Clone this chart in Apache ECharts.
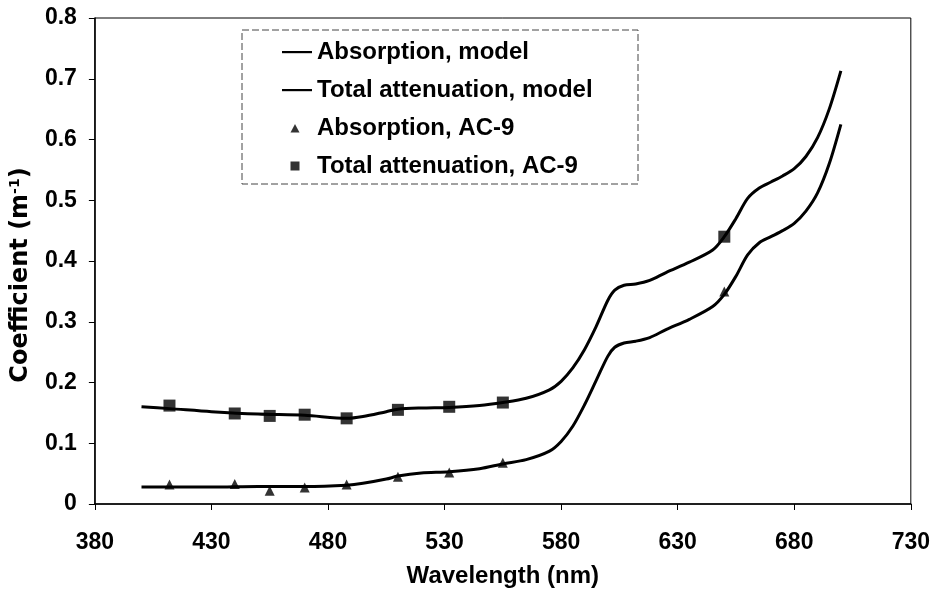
<!DOCTYPE html>
<html>
<head>
<meta charset="utf-8">
<script src="https://cdn.jsdelivr.net/npm/echarts@6/dist/echarts.min.js"></script>
<style>html,body{margin:0;padding:0;background:#fff}#c{width:933px;height:594px}</style>
</head>
<body>
<div id="c"></div>
<script>
// Model wavelengths (nm)
const modelWavelengths = [400,412,430,450,470,488,495,505,510,520,532,545,555,565,575,580,585,590,595,600,603,607,612,618,625,635,645,650,655,660,665,670,675,680,685,690,695,700];
const absorptionModel = [0.028,0.028,0.028,0.029,0.029,0.031,0.034,0.041,0.046,0.051,0.053,0.058,0.066,0.073,0.087,0.103,0.128,0.163,0.203,0.243,0.258,0.265,0.268,0.274,0.287,0.304,0.325,0.345,0.375,0.410,0.430,0.440,0.450,0.462,0.482,0.512,0.560,0.625];
const attenuationModel = [0.160,0.157,0.152,0.148,0.146,0.141,0.144,0.152,0.156,0.158,0.159,0.162,0.167,0.174,0.188,0.202,0.224,0.254,0.292,0.335,0.352,0.360,0.362,0.368,0.381,0.398,0.418,0.440,0.470,0.503,0.520,0.530,0.540,0.552,0.572,0.603,0.650,0.713];
// AC-9 measurements
const ac9Wavelengths = [412,440,455,470,488,510,532,555,650];
const absorptionAC9 = [0.032,0.033,0.022,0.027,0.032,0.045,0.052,0.068,0.350];
const attenuationAC9 = [0.162,0.149,0.145,0.147,0.141,0.155,0.160,0.167,0.440];
const xTicks = {min:380, max:730, interval:50};
const yTicks = {min:0, max:0.8, interval:0.1};
const seriesNames = ['Absorption, model','Total attenuation, model','Absorption, AC-9','Total attenuation, AC-9'];

const zip = (xs, ys) => xs.map((x,i)=>[x, ys[i]]);
const FONT = '"Liberation Sans", Arial, sans-serif';
const WIDE = '"DejaVu Sans", sans-serif';
const ICON_LINE = 'path://M0,0 M30,14 M0,6 L30,6 L30,8.2 L0,8.2 Z';
const ICON_TRI = 'path://M0,0 M30,14 M8.5,11.5 L13,3 L17.5,11.5 Z';
const ICON_SQ = 'path://M0,0 M30,14 M8.5,2.5 L17.5,2.5 L17.5,11.5 L8.5,11.5 Z';

const chart = echarts.init(document.getElementById('c'), null, {renderer:'canvas'});
chart.setOption({
  animation:false,
  backgroundColor:'#fff',
  grid:{left:91, right:19, top:18, bottom:90, show:true, borderColor:'#000', borderWidth:1, backgroundColor:'transparent'},
  graphic:[{type:'rect', shape:{x:242, y:30, width:396, height:154}, style:{fill:'none', stroke:'#444', lineWidth:1, lineDash:[7,3]}, z:100}],
  legend:{
    orient:'vertical', left:282, top:39, padding:0, itemGap:12, itemWidth:30, itemHeight:14,
    symbolKeepAspect:true,
    data:[
      {name:seriesNames[0], icon:ICON_LINE, itemStyle:{color:'#000'}},
      {name:seriesNames[1], icon:ICON_LINE, itemStyle:{color:'#000'}},
      {name:seriesNames[2], icon:ICON_TRI, itemStyle:{color:'#000'}},
      {name:seriesNames[3], icon:ICON_SQ, itemStyle:{color:'#000'}}
    ],
    textStyle:{fontFamily:FONT, fontWeight:'bold', fontSize:24, color:'#000', lineHeight:26}
  },
  xAxis:{
    type:'value', min:xTicks.min, max:xTicks.max, interval:xTicks.interval,
    name:'Wavelength (nm)', nameLocation:'middle', nameGap:60,
    nameTextStyle:{fontFamily:FONT, fontWeight:'bold', fontSize:24, color:'#000'},
    axisLine:{show:true, lineStyle:{color:'#000', width:1.5}},
    axisTick:{show:true, inside:false, length:6, lineStyle:{color:'#000'}},
    axisLabel:{fontFamily:FONT, fontWeight:'bold', fontSize:23, color:'#000', margin:27},
    splitLine:{show:false}
  },
  yAxis:{
    type:'value', min:yTicks.min, max:yTicks.max, interval:yTicks.interval,
    name:'Coefficient (m{sup|-1})', nameLocation:'middle', nameGap:54,
    nameTextStyle:{fontFamily:WIDE, fontWeight:'bold', fontSize:24, color:'#000', lineHeight:26, padding:[0,28,0,0],
      rich:{sup:{fontFamily:WIDE, fontWeight:'bold', fontSize:14, color:'#000', verticalAlign:'top', lineHeight:14}}},
    axisLine:{show:true, lineStyle:{color:'#000', width:1.5}},
    axisTick:{show:true, inside:false, length:6, lineStyle:{color:'#000'}},
    axisLabel:{fontFamily:FONT, fontWeight:'bold', fontSize:23, color:'#000', margin:18,
      formatter:v=> v===0 ? '0' : v.toFixed(1)},
    splitLine:{show:false}
  },
  series:[
    {name:seriesNames[0], type:'line', data:zip(modelWavelengths, absorptionModel), symbol:'none', smooth:0.3,
     lineStyle:{color:'#000', width:3}, itemStyle:{color:'#000'}, z:2},
    {name:seriesNames[1], type:'line', data:zip(modelWavelengths, attenuationModel), symbol:'none', smooth:0.3,
     lineStyle:{color:'#000', width:3}, itemStyle:{color:'#000'}, z:2},
    {name:seriesNames[2], type:'scatter', data:zip(ac9Wavelengths, absorptionAC9), symbol:'triangle', symbolSize:10,
     itemStyle:{color:'#000'}, z:3},
    {name:seriesNames[3], type:'scatter', data:zip(ac9Wavelengths, attenuationAC9), symbol:'rect', symbolSize:12,
     itemStyle:{color:'#000'}, z:3}
  ]
});
</script>
</body>
</html>
